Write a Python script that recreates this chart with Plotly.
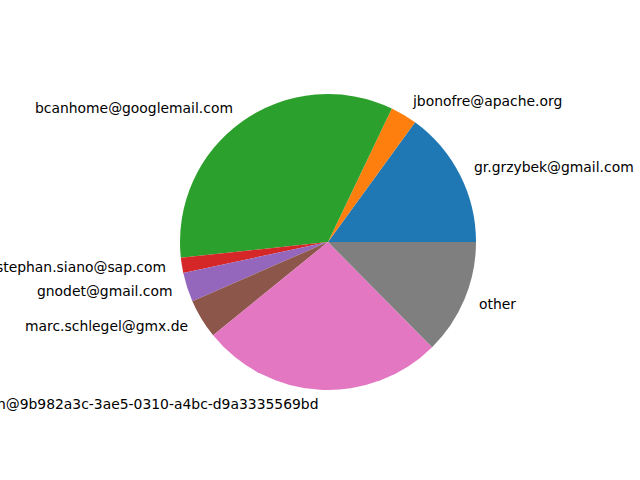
import math
import plotly.graph_objects as go

labels = ["gr.grzybek@gmail.com", "jbonofre@apache.org", "bcanhome@googlemail.com",
          "stephan.siano@sap.com", "gnodet@gmail.com", "marc.schlegel@gmx.de",
          "n@9b982a3c-3ae5-0310-a4bc-d9a3335569bd", "other"]
values = [54.0, 10.5, 121.7, 6.0, 11.5, 15.5, 95.7, 45.3]
colors = ["#1f77b4", "#ff7f0e", "#2ca02c", "#d62728", "#9467bd", "#8c564b", "#e377c2", "#7f7f7f"]

W, H = 640, 480
cx, cy, R = 328, 242, 148

total = sum(values)
first_deg = values[0] / total * 360

fig = go.Figure(go.Pie(
    labels=labels, values=values, sort=False, direction="counterclockwise",
    rotation=90 - first_deg, textinfo="none", hoverinfo="label+value",
    marker=dict(colors=colors, line=dict(width=0)),
    domain=dict(x=[(cx - R) / W, (cx + R) / W], y=[(H - cy - R) / H, (H - cy + R) / H]),
    showlegend=False,
))

start = 0.0
for lab, v in zip(labels, values):
    mid = start + v / total * 360 / 2
    start += v / total * 360
    a = math.radians(mid)
    px = cx + 1.1 * R * math.cos(a)
    py = cy - 1.1 * R * math.sin(a) - 1
    fig.add_annotation(
        x=px / W, y=1 - py / H, xref="paper", yref="paper", text=lab, showarrow=False,
        xanchor="left" if math.cos(a) > 0 else "right", yanchor="middle", borderpad=0,
        font=dict(family="DejaVu Sans", size=13.9, color="black"),
    )

fig.update_layout(width=W, height=H, margin=dict(l=0, r=0, t=0, b=0),
                  paper_bgcolor="white", plot_bgcolor="white")
fig.write_html("out.html", config={"displayModeBar": False},
               post_script="document.body.style.margin='0';document.body.style.overflow='hidden';")
